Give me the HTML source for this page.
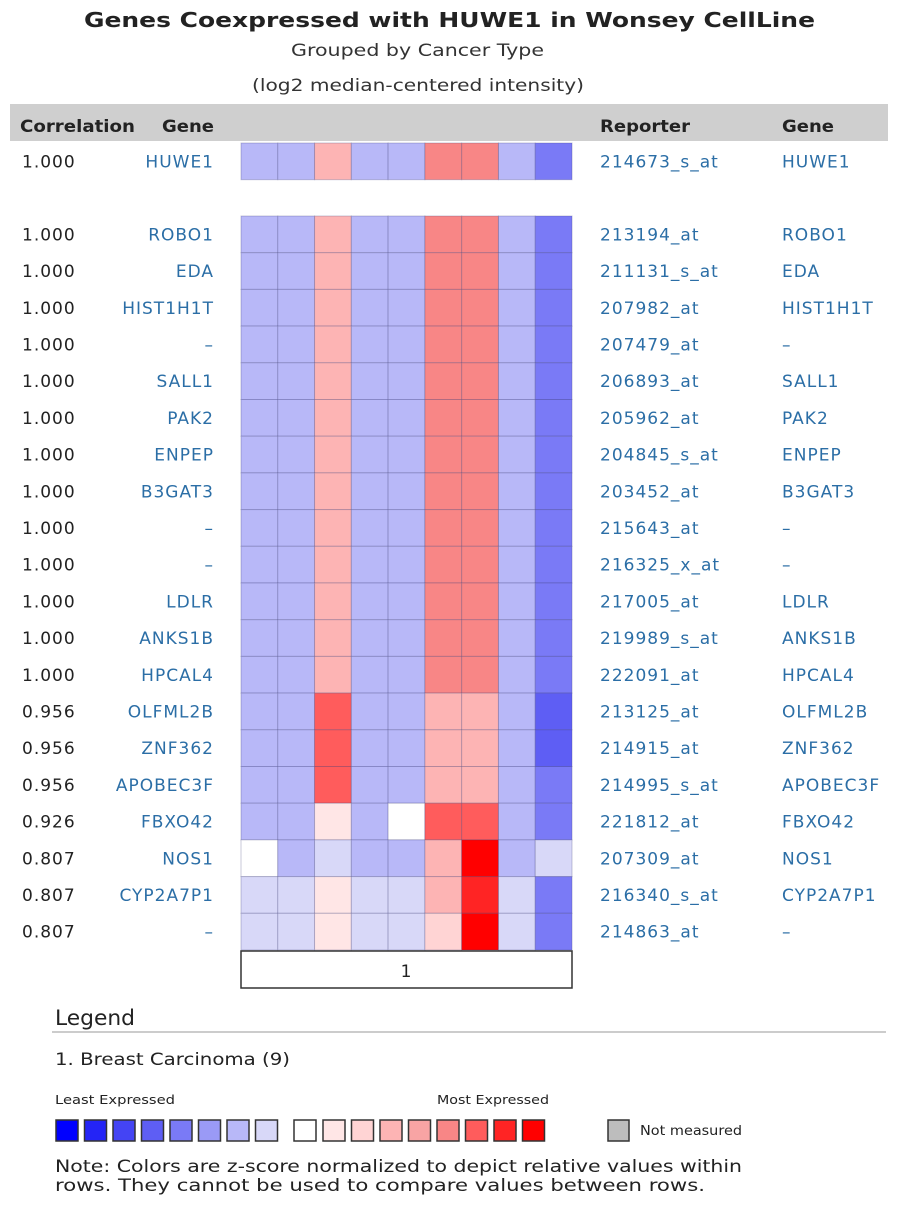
<!DOCTYPE html>
<html><head><meta charset="utf-8">
<style>
body{margin:0;background:#fff;width:898px;height:1205px;overflow:hidden}
svg{display:block;font-family:"DejaVu Sans","Liberation Sans",sans-serif}
.lk{fill:#2b6ea6}
.t{fill:#222}
</style></head>
<body>
<svg id="chart" width="898" height="1205" viewBox="0 0 898 1205">
<text x="84" y="27" font-size="20" font-weight="bold" class="t" textLength="731" lengthAdjust="spacingAndGlyphs">Genes Coexpressed with HUWE1 in Wonsey CellLine</text>
<text x="291" y="56" font-size="17" fill="#333" textLength="253" lengthAdjust="spacingAndGlyphs">Grouped by Cancer Type</text>
<text x="252" y="91" font-size="17" fill="#333" textLength="332" lengthAdjust="spacingAndGlyphs">(log2 median-centered intensity)</text>
<rect x="10" y="104" width="878" height="37" fill="#cfcfcf"/>
<text x="20" y="132" font-size="17" font-weight="bold" class="t" textLength="115" lengthAdjust="spacingAndGlyphs">Correlation</text>
<text x="162" y="132" font-size="17" font-weight="bold" class="t" textLength="52" lengthAdjust="spacingAndGlyphs">Gene</text>
<text x="600" y="132" font-size="17" font-weight="bold" class="t" textLength="90" lengthAdjust="spacingAndGlyphs">Reporter</text>
<text x="782" y="132" font-size="17" font-weight="bold" class="t" textLength="52" lengthAdjust="spacingAndGlyphs">Gene</text>
<g id="rows"></g>
<rect x="241" y="951" width="331" height="37" fill="#fff" stroke="#333" stroke-width="1.5"/>
<text x="406" y="977" text-anchor="middle" font-size="17" class="t">1</text>
<text x="55" y="1025" font-size="21" class="t" textLength="80" lengthAdjust="spacingAndGlyphs">Legend</text>
<line x1="52" y1="1032" x2="886" y2="1032" stroke="#bbb" stroke-width="1.5"/>
<text x="55" y="1065" font-size="17" class="t" textLength="235" lengthAdjust="spacingAndGlyphs">1. Breast Carcinoma (9)</text>
<text x="55" y="1104" font-size="12" class="t" textLength="120" lengthAdjust="spacingAndGlyphs">Least Expressed</text>
<text x="437" y="1104" font-size="12" class="t" textLength="112" lengthAdjust="spacingAndGlyphs">Most Expressed</text>
<g id="scale"></g>
<rect x="608" y="1120" width="21" height="21" fill="#bdbdbd" stroke="#333" stroke-width="1.5"/>
<text x="640" y="1135" font-size="13" class="t" textLength="102" lengthAdjust="spacingAndGlyphs">Not measured</text>
<text x="55" y="1172" font-size="17" class="t" textLength="687" lengthAdjust="spacingAndGlyphs">Note: Colors are z-score normalized to depict relative values within</text>
<text x="55" y="1191" font-size="17" class="t" textLength="650" lengthAdjust="spacingAndGlyphs">rows. They cannot be used to compare values between rows.</text>
</svg>
<script>
const correlations=["1.000","1.000","1.000","1.000","1.000","1.000","1.000","1.000","1.000","1.000","1.000","1.000","1.000","1.000","0.956","0.956","0.956","0.926","0.807","0.807","0.807"];
const genes=["HUWE1","ROBO1","EDA","HIST1H1T","–","SALL1","PAK2","ENPEP","B3GAT3","–","–","LDLR","ANKS1B","HPCAL4","OLFML2B","ZNF362","APOBEC3F","FBXO42","NOS1","CYP2A7P1","–"];
const reporters=["214673_s_at","213194_at","211131_s_at","207982_at","207479_at","206893_at","205962_at","204845_s_at","203452_at","215643_at","216325_x_at","217005_at","219989_s_at","222091_at","213125_at","214915_at","214995_s_at","221812_at","207309_at","216340_s_at","214863_at"];
const base=[-2,-2,3,-2,-2,5,5,-2,-4];
const levels=[base,base,base,base,base,base,base,base,base,base,base,base,base,base,
[-2,-2,6,-2,-2,3,3,-2,-5],
[-2,-2,6,-2,-2,3,3,-2,-5],
[-2,-2,6,-2,-2,3,3,-2,-4],
[-2,-2,1,-2,0,6,6,-2,-4],
[0,-2,-1,-2,-2,3,8,-2,-1],
[-1,-1,1,-1,-1,3,7,-1,-4],
[-1,-1,1,-1,-1,2,8,-1,-4]];
const palette=["#0000ff","#2424f6","#4444f4","#5e5ef4","#7a7af6","#9a9af6","#b8b8f8","#d8d8f8","#ffffff","#ffe6e6","#ffd4d4","#fdb4b4","#f8a4a4","#f88686","#ff5c5c","#ff2424","#ff0000"];
const NS="http://www.w3.org/2000/svg";
const x0=241,cw=36.78,ch=36.7;
function rowY(i){return i===0?143:216+(i-1)*ch;}
function colX(j){return x0+j*cw;}
function color(v){return palette[v+8];}
const g=document.getElementById('rows');
function txt(x,y,s,cls,anchor){const t=document.createElementNS(NS,'text');t.setAttribute('x',x);t.setAttribute('y',y);t.setAttribute('font-size','17');t.setAttribute('letter-spacing','1');t.setAttribute('class',cls);if(anchor)t.setAttribute('text-anchor',anchor);t.textContent=s;g.appendChild(t);return t;}
for(let i=0;i<genes.length;i++){
 const y=rowY(i),ty=y+ch/2+6;
 let t=txt(22,ty,correlations[i],'t');
 
 
 t=txt(214,ty,genes[i],'lk','end');
 
 
 t=txt(600,ty,reporters[i],'lk');
 
 
 t=txt(782,ty,genes[i],'lk');
 
 
 for(let j=0;j<levels[i].length;j++){
  const r=document.createElementNS(NS,'rect');
  r.setAttribute('x',colX(j));r.setAttribute('y',y);r.setAttribute('width',cw);r.setAttribute('height',ch);
  r.setAttribute('fill',color(levels[i][j]));r.setAttribute('stroke','rgba(60,60,120,0.28)');r.setAttribute('stroke-width','1');
  
  
  g.appendChild(r);
 }
}
const sc=document.getElementById('scale');
for(let k=0;k<palette.length;k++){
 const r=document.createElementNS(NS,'rect');
 const x=k<8?56+k*28.5:k===8?294:323+(k-9)*28.5;
 r.setAttribute('x',x);r.setAttribute('y',1120);r.setAttribute('width',22);r.setAttribute('height',21);
 r.setAttribute('fill',palette[k]);r.setAttribute('stroke','#333');r.setAttribute('stroke-width','1.5');
 
 
 sc.appendChild(r);
}
</script>
</body></html>
